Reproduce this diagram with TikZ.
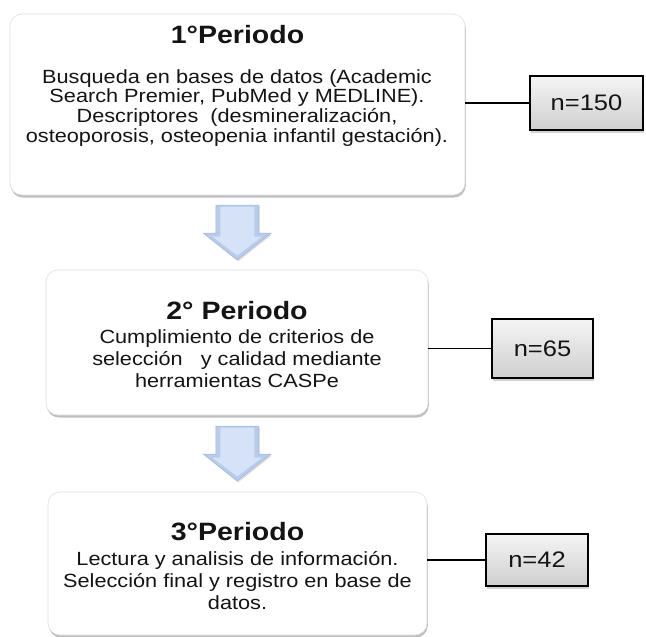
\documentclass[tikz,border=0pt]{standalone}
\usepackage{fontspec}
\setmainfont{Liberation Sans}
\usetikzlibrary{shadows,calc}
\definecolor{arrowouter}{RGB}{184,203,234}
\definecolor{arrowinner}{RGB}{214,226,247}
\definecolor{arrowedge}{RGB}{160,182,220}
\definecolor{txt}{RGB}{20,20,20}
\newcommand\ttl[1]{\scalebox{1}[0.88]{\fontsize{28.5pt}{30pt}\selectfont\bfseries #1}}
\newcommand\bdy[2]{\scalebox{1}[0.88]{\fontsize{21.7pt}{#1}\selectfont\begin{tabular}[t]{@{}c@{}}#2\end{tabular}}}
\newcommand\cnt[1]{\scalebox{1}[0.88]{\fontsize{25.5pt}{27pt}\selectfont #1}}
\newcommand\flowarrow[1]{%
  \path[fill=arrowouter, draw=arrowedge, line width=0.5pt,
        drop shadow={shadow xshift=1pt, shadow yshift=-1.5pt, fill=gray!60, opacity=0.4}]
    ($(#1)+(-21.5,-27.5)$) -- ($(#1)+(21.5,-27.5)$) -- ($(#1)+(21.5,0.5)$) --
    ($(#1)+(34,0.5)$) -- ($(#1)+(0,27.5)$) -- ($(#1)+(-34,0.5)$) --
    ($(#1)+(-21.5,0.5)$) -- cycle;
  \fill[arrowinner]
    ($(#1)+(-17,-26)$) -- ($(#1)+(17,-26)$) -- ($(#1)+(17,4)$) --
    ($(#1)+(25,4)$) -- ($(#1)+(0,23)$) -- ($(#1)+(-25,4)$) --
    ($(#1)+(-17,4)$) -- cycle;}
\begin{document}
\begin{tikzpicture}[x=1pt,y=-1pt,
  bigbox/.style={draw=gray!25, fill=white, rounded corners=12pt, line width=0.6pt,
    drop shadow={shadow xshift=0.8pt, shadow yshift=-2.5pt, fill=gray!85, opacity=0.6},
    inner sep=0pt},
  numbox/.style={draw=black, line width=1.6pt, top color=gray!8, bottom color=gray!38,
    drop shadow={shadow xshift=0.8pt, shadow yshift=-2.5pt, fill=gray!70, opacity=0.5},
    inner sep=0pt, text=txt},
  label/.style={inner sep=0pt, text=txt, anchor=base},
  link/.style={draw=black, line width=1.6pt}]
\useasboundingbox (0,0) rectangle (646,637);
% boxes
\node[bigbox, minimum width=455pt, minimum height=181pt] (b1) at (237.5,104.5) {};
\node[bigbox, minimum width=382pt, minimum height=145pt] (b2) at (237,342.5) {};
\node[bigbox, minimum width=379pt, minimum height=143pt] (b3) at (237.5,563.5) {};
% titles
\node[label] (t1) at (237.5,43.3) {\ttl{1°Periodo}};
\node[label] (t2) at (237,319.3) {\ttl{2° Periodo}};
\node[label] (t3) at (237.5,540) {\ttl{3°Periodo}};
% bodies
\node[label] (d1) at (237,83.3) {\bdy{21.8pt}{Busqueda en bases de datos (Academic\\Search Premier, PubMed y MEDLINE).\\Descriptores\ \ (desmineralización,\\osteoporosis, osteopenia infantil gestación).}};
\node[label] (d2) at (237,343.3) {\bdy{25.3pt}{Cumplimiento de criterios de\\selección\ \ \ y calidad mediante\\herramientas CASPe}};
\node[label] (d3) at (237.5,565) {\bdy{25pt}{Lectura y analisis de información.\\Selección final y registro en base de\\datos.}};
% count boxes
\node[numbox, minimum width=113pt, minimum height=54pt] (n1) at (586.5,103) {\cnt{n=150}};
\node[numbox, minimum width=101pt, minimum height=59pt] (n2) at (542.5,348.5) {\cnt{n=65}};
\node[numbox, minimum width=102pt, minimum height=52pt] (n3) at (537,560) {\cnt{n=42}};
% connectors
\draw[link] (b1.east |- n1.west) -- (n1.west);
\draw[link] (b2.east |- n2.west) -- (n2.west);
\draw[link] (b3.east |- n3.west) -- (n3.west);
% flow arrows
\coordinate (a1) at ($(b1.south)!0.5!(b2.north)$);
\coordinate (a2) at ($(b2.south)!0.5!(b3.north)$);
\flowarrow{a1}
\flowarrow{a2}
\end{tikzpicture}
\end{document}
